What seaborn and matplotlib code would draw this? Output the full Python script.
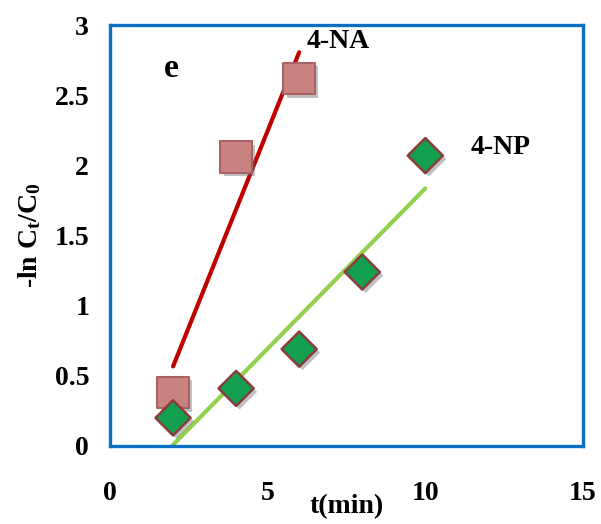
import numpy as np
import pandas as pd
import matplotlib
matplotlib.use('Agg')
import matplotlib.pyplot as plt
import matplotlib.patheffects as pe
import seaborn as sns

# data
t_na = [2, 4, 6]
lnc_na = [0.38, 2.06, 2.62]
t_np = [2, 4, 6, 8, 10]
lnc_np = [0.20, 0.41, 0.69, 1.24, 2.07]

na_df = pd.DataFrame({'t': t_na, 'y': lnc_na})
np_df = pd.DataFrame({'t': t_np, 'y': lnc_np})

sns.set_style('white')
plt.rcParams['font.family'] = ['Liberation Serif', 'DejaVu Serif']
plt.rcParams['font.weight'] = 'bold'
plt.rcParams['text.color'] = 'black'
plt.rcParams['axes.labelcolor'] = 'black'
plt.rcParams['xtick.color'] = 'black'
plt.rcParams['ytick.color'] = 'black'
plt.rcParams['mathtext.fontset'] = 'custom'
plt.rcParams['mathtext.rm'] = 'Liberation Serif:bold'
plt.rcParams['mathtext.it'] = 'Liberation Serif:bold'
plt.rcParams['mathtext.bf'] = 'Liberation Serif:bold'

blue = '#0b6fc2'
fig = plt.figure(figsize=(6.01, 5.24), dpi=100)
ax = fig.add_axes([0.183, 0.149, 0.787, 0.803])

# fitted lines
sns.regplot(data=na_df, x='t', y='y', scatter=False, ci=None, ax=ax,
            line_kws={'color': '#c00000', 'lw': 3.0})
sns.regplot(data=np_df, x='t', y='y', scatter=False, ci=None, ax=ax,
            line_kws={'color': '#92d050', 'lw': 3.0})

shadow = [pe.SimplePatchShadow(offset=(2.5, -2.5), shadow_rgbFace='#666666', alpha=0.4), pe.Normal()]
sns.scatterplot(data=na_df, x='t', y='y', marker='s', s=520, color='#c88282',
                edgecolor='#a86262', linewidth=1.5, ax=ax, zorder=4).collections[-1].set_path_effects(shadow)
sns.scatterplot(data=np_df, x='t', y='y', marker='D', s=320, color='#12a050',
                edgecolor='#8a3c3c', linewidth=1.8, ax=ax, zorder=5).collections[-1].set_path_effects(shadow)

ax.text(1.95, 2.69, 'e', fontsize=24, fontweight='bold', ha='center', va='center')
ax.text(7.25, 2.88, '4-NA', fontsize=20, fontweight='bold', ha='center', va='center')
ax.text(12.4, 2.13, '4-NP', fontsize=20, fontweight='bold', ha='center', va='center')

ax.set_xlim(0, 15)
ax.set_ylim(0, 3)
ax.set_xticks([0, 5, 10, 15])
ax.set_xticklabels(['0', '5', '10', '15'])
ax.set_yticks([0, 0.5, 1, 1.5, 2, 2.5, 3])
ax.set_yticklabels(['0', '0.5', '1', '1.5', '2', '2.5', '3'])
ax.tick_params(axis='both', direction='out', length=5, width=2.2, color=blue,
               labelsize=20, pad=20)
ax.tick_params(axis='y', pad=10)
for lab in ax.get_xticklabels() + ax.get_yticklabels():
    lab.set_fontweight('bold')
    lab.set_color('black')
for sp in ax.spines.values():
    sp.set_visible(True)
    sp.set_color(blue)
    sp.set_linewidth(2.4)

ax.set_xlabel('t(min)', fontsize=20, fontweight='bold', labelpad=-8)
ax.set_ylabel(r'-ln C$_t$/C$_0$', fontsize=20, fontweight='bold', labelpad=8)

fig.savefig('out.png', dpi=100)
